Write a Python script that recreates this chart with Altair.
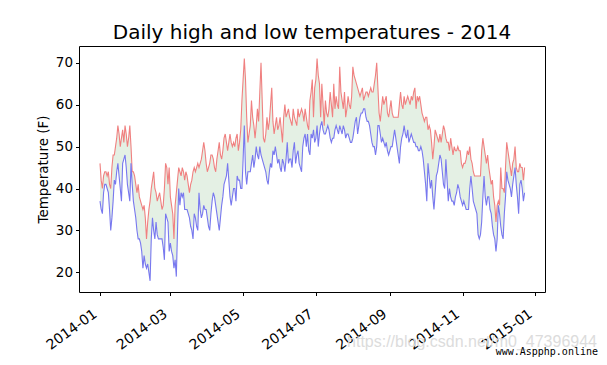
import altair as alt
import pandas as pd

start_date = "2014-01-01"

highs = [
    46, 42, 40, 43, 44, 44, 43, 44, 41, 40,
    45, 48, 48, 50, 52, 55, 53, 50, 52, 54,
    51, 55, 53, 50, 52, 55, 50, 44, 44, 43,
    41, 39, 41, 38, 37, 36, 35, 36, 33, 28,
    32, 35, 37, 40, 42, 44, 40, 39, 37, 38,
    39, 37, 35, 36, 40, 46, 45, 41, 45, 38,
    36, 34, 28, 36, 39, 42, 45, 44, 43, 45,
    44, 42, 44, 43, 41, 39, 41, 42, 44, 45,
    44, 45, 46, 45, 46, 47, 49, 51, 49, 46,
    44, 45, 46, 48, 48, 47, 45, 44, 47, 49,
    51, 48, 47, 49, 52, 53, 51, 49, 51, 53,
    51, 50, 51, 50, 52, 53, 49, 51, 54, 61,
    66, 71, 66, 57, 51, 53, 55, 61, 57, 55,
    52, 55, 59, 56, 63, 70, 61, 52, 51, 53,
    57, 54, 56, 60, 64, 56, 53, 55, 57, 54,
    55, 57, 54, 51, 57, 60, 57, 58, 59, 57,
    56, 55, 59, 57, 56, 55, 59, 57, 58, 59,
    58, 56, 59, 57, 55, 54, 61, 63, 66, 57,
    64, 66, 71, 67, 65, 57, 65, 60, 55, 61,
    58, 57, 59, 63, 60, 57, 65, 59, 62, 60,
    59, 69, 63, 61, 59, 63, 57, 59, 62, 60,
    59, 62, 69, 67, 66, 65, 64, 63, 62, 63,
    64, 61, 62, 63, 63, 62, 63, 64, 63, 63,
    65, 67, 70, 64, 58, 56, 59, 62, 60, 61,
    62, 58, 57, 59, 61, 58, 57, 57, 57, 57,
    57, 60, 63, 60, 59, 62, 60, 61, 62, 61,
    60, 62, 61, 63, 64, 59, 62, 61, 62, 60,
    58, 57, 56, 57, 57, 54, 55, 54, 51, 47,
    50, 54, 53, 52, 51, 53, 51, 53, 55, 54,
    52, 51, 51, 49, 52, 50, 48, 50, 49, 49,
    50, 49, 49, 46, 45, 46, 46, 47, 49, 48,
    50, 47, 46, 44, 43, 43, 43, 43, 43, 43,
    49, 52, 50, 48, 46, 48, 45, 43, 41, 42,
    38, 36, 32, 36, 37, 36, 45, 40, 40, 39,
    45, 51, 49, 47, 45, 43, 46, 47, 50, 45,
    44, 44, 46, 45, 45, 42, 45,
]

lows = [
    37, 35, 34, 39, 41, 41, 40, 39, 35, 30,
    33, 37, 42, 41, 44, 46, 43, 40, 37, 46,
    47, 48, 45, 41, 39, 37, 46, 41, 37, 35,
    33, 30, 28, 28, 27, 25, 21, 24, 22, 21,
    22, 20, 18, 28, 33, 30, 28, 32, 29, 28,
    28, 28, 28, 26, 23, 34, 33, 32, 25, 27,
    25, 24, 21, 23, 19, 30, 40, 36, 39, 38,
    39, 35, 35, 35, 34, 33, 31, 30, 28, 34,
    33, 31, 30, 39, 35, 33, 34, 36, 35, 35,
    33, 31, 30, 34, 37, 39, 38, 36, 34, 32,
    30, 33, 36, 38, 41, 42, 43, 46, 42, 38,
    36, 38, 40, 40, 37, 43, 42, 42, 40, 40,
    47, 55, 44, 41, 44, 44, 44, 46, 48, 45,
    47, 50, 48, 47, 50, 48, 47, 46, 45, 44,
    42, 41, 44, 46, 45, 49, 48, 50, 48, 46,
    47, 45, 44, 47, 46, 44, 47, 51, 46, 47,
    47, 45, 49, 51, 46, 48, 49, 46, 45, 44,
    50, 52, 53, 50, 53, 49, 48, 53, 52, 54,
    51, 52, 55, 50, 53, 55, 56, 54, 53, 53,
    54, 55, 54, 52, 51, 52, 52, 54, 55, 54,
    53, 55, 54, 53, 55, 54, 52, 53, 53, 52,
    51, 51, 52, 54, 56, 57, 53, 55, 57, 58,
    58, 59, 59, 57, 56, 56, 55, 53, 51, 50,
    50, 48, 50, 55, 55, 53, 51, 52, 51, 50,
    51, 49, 48, 49, 50, 50, 52, 54, 52, 50,
    48, 46, 50, 52, 53, 55, 53, 52, 54, 51,
    52, 53, 52, 51, 51, 50, 50, 49, 49, 50,
    49, 47, 44, 41, 37, 46, 43, 40, 42, 38,
    35, 39, 43, 44, 46, 48, 47, 44, 41, 40,
    47, 42, 37, 40, 38, 37, 37, 36, 38, 39,
    41, 40, 38, 37, 36, 37, 36, 35, 35, 35,
    40, 43, 40, 37, 36, 35, 34, 29, 28, 29,
    32, 38, 43, 38, 36, 38, 38, 35, 34, 31,
    29, 28, 25, 28, 36, 34, 31, 29, 28, 34,
    38, 44, 42, 41, 40, 38, 41, 43, 45, 41,
    38, 34, 41, 42, 40, 37, 39,
]

y_ticks = [20, 30, 40, 50, 60, 70]
x_tick_months = [(2014, 1), (2014, 3), (2014, 5), (2014, 7), (2014, 9), (2014, 11), (2015, 1)]
title_text = "Daily high and low temperatures - 2014"
y_title = "Temperature (F)"
watermarks = ["https://blog.csdn.net/m0_47396944", "www.Aspphp.online"]

n = min(len(highs), len(lows))
dates = pd.date_range(start_date, periods=n, freq="D")
df = pd.DataFrame({
    "date": dates.strftime("%Y-%m-%dT00:00:00"),
    "high": highs[:n],
    "low": lows[:n],
})

x_scale = alt.Scale(domain=[
    alt.DateTime(year=2013, month=12, date=14, hours=9, minutes=36),
    alt.DateTime(year=2015, month=1, date=9, hours=2, minutes=24),
])
y_scale = alt.Scale(domain=[15.33, 73.98], nice=False, zero=False)

x_axis = alt.Axis(
    values=[alt.DateTime(year=y, month=m, date=1) for y, m in x_tick_months],
    format="%Y-%m", labelAngle=-36, labelAlign="right", labelBaseline="top",
    title=None, grid=False, domain=False, tickSize=3.5, labelPadding=11,
    labelOffset=-9,
    labelFont="DejaVu Sans", labelFontSize=14, labelColor="black",
    tickColor="black",
)
y_axis = alt.Axis(
    values=y_ticks, title=y_title, grid=False, domain=False, tickSize=3.5,
    labelPadding=3, titlePadding=5,
    labelFont="DejaVu Sans", labelFontSize=13.5, labelColor="black",
    titleFont="DejaVu Sans", titleFontSize=13.5, titleFontWeight="normal",
    titleColor="black", tickColor="black",
)

base = alt.Chart(df)
x_enc = alt.X("date:T", scale=x_scale, axis=x_axis)

band = base.mark_area(color="#e4f0e4", opacity=1).encode(
    x=x_enc,
    y=alt.Y("low:Q", scale=y_scale, axis=y_axis),
    y2="high:Q",
)
high_line = base.mark_line(color="#f08080", strokeWidth=1.1).encode(
    x=x_enc, y=alt.Y("high:Q", scale=y_scale, axis=y_axis)
)
low_line = base.mark_line(color="#7878ef", strokeWidth=1.1).encode(
    x=x_enc, y=alt.Y("low:Q", scale=y_scale, axis=y_axis)
)

wm1 = alt.Chart(pd.DataFrame({"t": [watermarks[0]]})).mark_text(
    align="right", baseline="alphabetic", font="Liberation Sans", fontSize=16,
    color="#dcdcdc",
).encode(x=alt.value(518), y=alt.value(301), text="t:N")
wm2 = alt.Chart(pd.DataFrame({"t": [watermarks[1]]})).mark_text(
    align="right", baseline="alphabetic", font="DejaVu Sans Mono", fontSize=10,
    color="black",
).encode(x=alt.value(519), y=alt.value(309), text="t:N")

chart = alt.layer(band, high_line, low_line, wm1, wm2).properties(
    width=466,
    height=246,
    background="white",
    autosize=alt.AutoSizeParams(type="none"),
    padding={"left": 71, "top": 38, "right": 54, "bottom": 65},
    title=alt.TitleParams(
        title_text, fontSize=20, font="DejaVu Sans", fontWeight="normal",
        color="black", anchor="middle", offset=5, baseline="alphabetic", dy=18,
    ),
).configure_view(
    stroke="black", strokeWidth=1
)

chart.save("out.html", embed_options={"renderer": "svg", "actions": False})
